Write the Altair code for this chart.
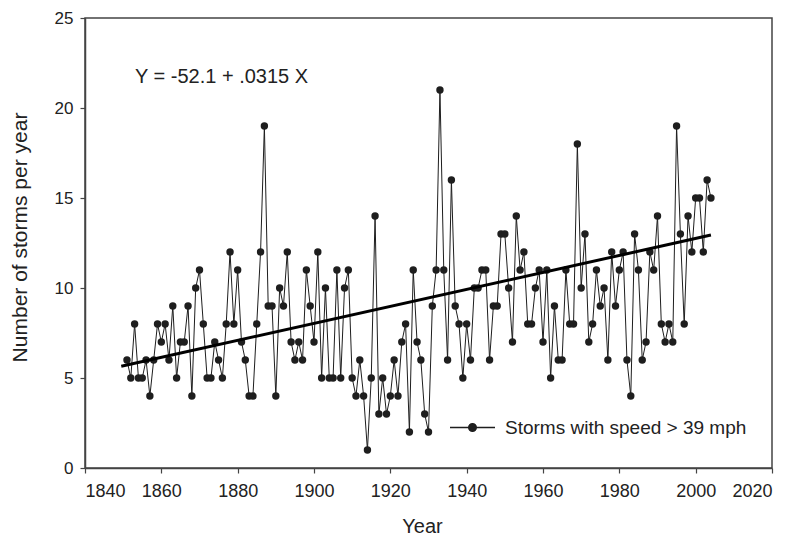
import altair as alt
import pandas as pd

# ---- data ----
years = list(range(1851, 2005))
storms = [
    6, 5, 8, 5, 5, 6, 4, 6, 8, 7,        # 1851-1860
    8, 6, 9, 5, 7, 7, 9, 4, 10, 11,      # 1861-1870
    8, 5, 5, 7, 6, 5, 8, 12, 8, 11,      # 1871-1880
    7, 6, 4, 4, 8, 12, 19, 9, 9, 4,      # 1881-1890
    10, 9, 12, 7, 6, 7, 6, 11, 9, 7,     # 1891-1900
    12, 5, 10, 5, 5, 11, 5, 10, 11, 5,   # 1901-1910
    4, 6, 4, 1, 5, 14, 3, 5, 3, 4,       # 1911-1920
    6, 4, 7, 8, 2, 11, 7, 6, 3, 2,       # 1921-1930
    9, 11, 21, 11, 6, 16, 9, 8, 5, 8,    # 1931-1940
    6, 10, 10, 11, 11, 6, 9, 9, 13, 13,  # 1941-1950
    10, 7, 14, 11, 12, 8, 8, 10, 11, 7,  # 1951-1960
    11, 5, 9, 6, 6, 11, 8, 8, 18, 10,    # 1961-1970
    13, 7, 8, 11, 9, 10, 6, 12, 9, 11,   # 1971-1980
    12, 6, 4, 13, 11, 6, 7, 12, 11, 14,  # 1981-1990
    8, 7, 8, 7, 19, 13, 8, 14, 12, 15,   # 1991-2000
    15, 12, 16, 15,                      # 2001-2004
]
series_label = "Storms with speed > 39 mph"
trend_years = [1849.5, 2004]
trend_values = [5.65, 12.94]
equation = "Y = -52.1 + .0315 X"
x_ticks = [1840, 1860, 1880, 1900, 1920, 1940, 1960, 1980, 2000, 2020]
y_ticks = [0, 5, 10, 15, 20, 25]

df = pd.DataFrame({"year": years, "storms": storms, "series": [series_label] * len(years)})
trend_df = pd.DataFrame({"year": trend_years, "storms": trend_values})
eq_df = pd.DataFrame({"label": [equation]})

FONT = "Liberation Sans"
INK = "#1e1e1e"

xscale = alt.Scale(domain=[1840, 2020], nice=False, zero=False)
yscale = alt.Scale(domain=[0, 25], nice=False)

xaxis = alt.Axis(values=x_ticks, format="d", title="Year", labelFontSize=18,
                 labelPadding=9, titleFontSize=20, titleX=337, titleY=58,
                 titleBaseline="middle", titleAlign="center")
yaxis = alt.Axis(values=y_ticks, title="Number of storms per year", labelFontSize=17,
                 labelPadding=7, titleFontSize=21, titleX=-65, titleY=219,
                 titleBaseline="middle", titleAlign="center", titleAngle=270)

# symbol for the legend: a short line with a filled dot in the middle
dot = " ".join(
    f"M{r},0 A{r},{r} 0 1,1 -{r},0 A{r},{r} 0 1,1 {r},0"
    for r in (0.17, 0.13, 0.09, 0.05, 0.02)
)
legend_symbol = "M-1,0 L1,0 " + dot

line = alt.Chart(df).mark_line(strokeWidth=1, color=INK).encode(
    x=alt.X("year:Q", scale=xscale, axis=xaxis),
    y=alt.Y("storms:Q", scale=yscale, axis=yaxis),
    color=alt.Color(
        "series:N",
        scale=alt.Scale(domain=[series_label], range=[INK]),
        legend=alt.Legend(
            orient="none", legendX=364, legendY=386, title=None,
            symbolType=legend_symbol, symbolSize=2025, symbolStrokeWidth=1.4,
            symbolFillColor=INK, symbolStrokeColor=INK,
            labelFont=FONT, labelFontSize=19, labelColor="#222",
            labelOffset=9, labelLimit=400, padding=0,
        ),
    ),
)

points = alt.Chart(df).mark_circle(size=55, color=INK, opacity=1).encode(
    x=alt.X("year:Q", scale=xscale),
    y=alt.Y("storms:Q", scale=yscale),
)

trend = alt.Chart(trend_df).mark_line(color="#000", strokeWidth=3).encode(
    x=alt.X("year:Q", scale=xscale),
    y=alt.Y("storms:Q", scale=yscale),
)

eq = alt.Chart(eq_df).mark_text(align="left", baseline="middle", font=FONT,
                                fontSize=20, color="#222").encode(
    x=alt.value(50), y=alt.value(59), text="label:N"
)

chart = alt.layer(line, points, trend, eq).properties(
    width=687, height=450,
    autosize=alt.AutoSizeParams(type="none"),
    padding={"left": 77, "top": 10, "right": 15, "bottom": 76},
    background="white",
).configure_view(
    stroke="#444", strokeWidth=1.5
).configure_axis(
    grid=False, domainColor="#444", domainWidth=1.5, tickColor="#444",
    tickWidth=1.2, tickSize=5, labelColor="#222", titleColor="#222",
    labelFont=FONT, titleFont=FONT, titleFontWeight="normal",
)

chart.save("out.html", embed_options={"renderer": "svg", "actions": False})
